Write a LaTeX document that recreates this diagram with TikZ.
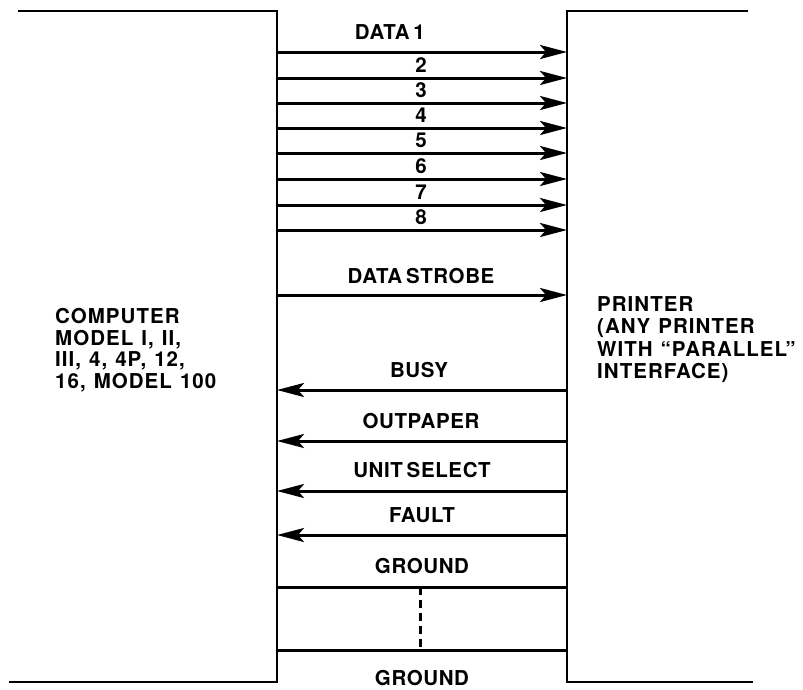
\documentclass[tikz,border=0pt]{standalone}
\usepackage{fontspec}
\setmainfont{TeX Gyre Heros}
\newfontfamily\labfont[LetterSpace=3,WordSpace=0.6]{TeX Gyre Heros}
\newfontfamily\blkfont[LetterSpace=5,WordSpace=1.2]{TeX Gyre Heros}
\usetikzlibrary{arrows.meta}
\begin{document}
\begin{tikzpicture}[x=1pt,y=-1pt,
  box/.style={line width=2.6pt, line join=miter},
  wire/.style={line width=3pt},
  fwd/.style={wire,-{Stealth[length=27pt,width=14pt,inset=6pt]}},
  lbl/.style={font=\labfont\fontsize{20.5}{22}\selectfont\bfseries, inner sep=0pt, anchor=base},
  blk/.style={font=\blkfont\fontsize{20.5}{21.7}\selectfont\bfseries, inner sep=0pt, anchor=north west, align=left},
  ]
\useasboundingbox (0,0) rectangle (803,689);

% boxes
\coordinate (LT0) at (18,11);
\coordinate (LT1) at (277,11);
\coordinate (LB1) at (277,682);
\coordinate (LB0) at (9,682);
\coordinate (RT0) at (748,11);
\coordinate (RT1) at (567,11);
\coordinate (RB1) at (567,682);
\coordinate (RB0) at (753,682);
\draw[box] (LT0) -- (LT1) -- (LB1) -- (LB0);
\draw[box] (RT0) -- (RT1) -- (RB1) -- (RB0);

% data lines
\foreach \i/\y in {1/52,2/78,3/103,4/128,5/153,6/179,7/205,8/230,9/295}{
  \coordinate (L\i) at (277,\y);
  \coordinate (R\i) at (567,\y);
  \draw[fwd] (L\i) -- (R\i);
}
% return lines
\foreach \i/\y in {10/390,11/441,12/491,13/535}{
  \coordinate (L\i) at (277,\y);
  \coordinate (R\i) at (567,\y);
  \draw[fwd] (R\i) -- (L\i);
}
% ground lines
\coordinate (L14) at (277,587);
\coordinate (R14) at (567,587);
\coordinate (L15) at (277,650);
\coordinate (R15) at (567,650);
\draw[wire] (L14) -- (R14);
\draw[wire] (L15) -- (R15);
\coordinate (D1) at (420,587);
\coordinate (D2) at (420,650);
\draw[line width=3pt, dash pattern=on 8pt off 5pt] (D1) -- (D2);

% labels
\node[lbl, anchor=base east] (t1) at (425,39) {DATA 1};
\node[lbl] (t2) at (421,72) {2};
\node[lbl] (t3) at (421,97) {3};
\node[lbl] (t4) at (421,122) {4};
\node[lbl] (t5) at (421,147) {5};
\node[lbl] (t6) at (421,173) {6};
\node[lbl] (t7) at (421,199) {7};
\node[lbl] (t8) at (421,224) {8};
\node[lbl] (t9) at (421,283) {DATA STROBE};
\node[lbl] (t10) at (419,377) {BUSY};
\node[lbl] (t11) at (421,428) {OUTPAPER};
\node[lbl] (t12) at (422,477) {UNIT SELECT};
\node[lbl] (t13) at (422,522) {FAULT};
\node[lbl] (t14) at (422,573) {GROUND};
\node[lbl] (t15) at (422,685) {GROUND};

\node[blk] (comp) at (55,308) {COMPUTER\\MODEL I, II,\\III, 4, 4P, 12,\\16, MODEL 100};
\node[blk, font=\blkfont\fontsize{20.5}{22.5}\selectfont\bfseries] (prn) at (597,296) {PRINTER\\(ANY PRINTER\\WITH “PARALLEL”\\INTERFACE)};
\end{tikzpicture}
\end{document}
